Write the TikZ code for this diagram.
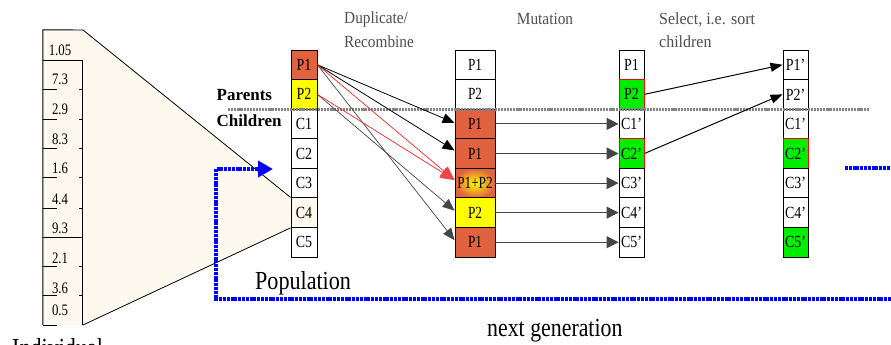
\documentclass[tikz,border=0pt]{standalone}
\usepackage{fontspec}
\setmainfont{Liberation Serif}
\usepackage{graphicx}
\usetikzlibrary{arrows.meta}

\definecolor{orng}{HTML}{E2613F}
\definecolor{yel}{HTML}{FFFF00}
\definecolor{grn}{HTML}{00EE00}
\definecolor{beige}{HTML}{FDF9EF}
\definecolor{ttl}{HTML}{4D4D4D}
\definecolor{arrgray}{HTML}{454545}
\definecolor{redarr}{HTML}{F02828}
\definecolor{redhead}{HTML}{E84848}
\definecolor{sepgray}{HTML}{858585}

% horizontally condensed text
\newcommand\sqz[2][0.82]{\scalebox{#1}[1]{#2}}

\begin{document}
\begin{tikzpicture}[x=1pt,y=-1pt,
  cell/.style={draw, line width=0.9pt, inner sep=0pt, minimum height=29.57pt,
    font=\fontsize{17}{17}\selectfont},
  fw/.style={fill=white},
  fo/.style={fill=orng},
  fy/.style={fill=yel},
  fb/.style={fill=beige},
  fg/.style={fill=grn, draw=red},
  fgk/.style={fill=grn},
  fglow/.style={shading=radial, inner color=yel, outer color=orng},
  num/.style={inner sep=0pt, font=\fontsize{16}{16}\selectfont},
  ttlfont/.style={inner sep=0pt, anchor=base west, text=ttl, font=\fontsize{17}{17}\selectfont},
  bigfont/.style={inner sep=0pt, anchor=base west, font=\fontsize{26}{26}\selectfont},
  sidefont/.style={inner sep=0pt, anchor=base west, font=\fontsize{17}{17}\selectfont\bfseries},
  tipk/.style={-{Triangle[length=12pt,width=10pt]}},
  dupk/.style={tipk, line width=0.8pt, black},
  dupg/.style={tipk, line width=0.7pt, arrgray},
  dupr/.style={-{Triangle[length=14pt,width=12pt,color=redhead]}, line width=0.7pt, redarr},
  mutarr/.style={-{Triangle[length=12pt,width=12pt]}, line width=1pt, arrgray},
  selarr/.style={-{Triangle[length=12pt,width=9pt]}, line width=1pt, black},
  sepline/.style={line width=3.2pt, sepgray, dash pattern=on 2.2pt off 0.9pt},
  blueline/.style={line width=3.8pt, blue, dash pattern=on 3pt off 0.8pt}]

\useasboundingbox (0,0) rectangle (891,345);
\clip (0,0) rectangle (891,345);

% ---- individual: funnel and gene column ----
\fill[beige] (43,30) -- (83,30) -- (291,197.4) -- (291,227) -- (83,325) -- (43,325) -- cycle;
\node[inner sep=0pt, minimum width=39pt, minimum height=295pt] (indiv) at (62.5,177.5) {};
\draw[line width=0.9pt] (indiv.south west) -- (indiv.north west) -- (83,30);
\draw[line width=0.9pt] (43,60.7) -- (83,60.7);
\draw[line width=0.9pt] (43,237) -- (83,237);
\draw[line width=0.9pt] (82.5,60.7) -- (82.5,325);
\foreach \y in {89,119,148,177,208,266,295,325}
  \draw[line width=0.9pt] (43,\y) -- (57,\y);
\foreach \y in {89,119,148,177,208,266,295}
  \draw[line width=0.9pt] (79,\y) -- (82.5,\y);
\foreach \y/\v [count=\k] in {50.5/1.05, 79/7.3, 109/2.9, 139/8.3, 168.5/1.6,
                               199/4.4, 228/9.3, 258.5/2.1, 288/3.6, 310.5/0.5}
  \node[num] (gene\k) at (60,\y) {\sqz[0.8]{\v}};

% ---- population ----
\foreach \t/\s [count=\i] in {P1/fo, P2/fy, C1/fw, C2/fw, C3/fw, C4/fb, C5/fw}
  \node[cell, \s, minimum width=26pt] (pop\i) at (304,{50+(\i-0.5)*29.57}) {\sqz{\t}};

% funnel edges meet C4
\draw[line width=0.8pt] (83,30) -- (pop6.north west);
\draw[line width=0.8pt] (83,325) -- (pop6.south west);

% ---- after duplicate / recombine ----
\foreach \t/\s [count=\i] in {P1/fw, P2/fw, P1/fo, P1/fo, P1+P2/fglow, P2/fy, P1/fo}
  \node[cell, \s, minimum width=40pt] (mut\i) at (475,{50+(\i-0.5)*29.57}) {\sqz[0.78]{\t}};

% ---- after mutation ----
\foreach \t/\s [count=\i] in {P1/fw, P2/fg, C1'/fw, C2'/fg, C3'/fw, C4'/fw, C5'/fw}
  \node[cell, \s, minimum width=25pt] (chd\i) at (631.5,{50+(\i-0.5)*29.57}) {\sqz{\t}};

% ---- after selection ----
\foreach \t/\s [count=\i] in {P1'/fw, P2'/fw, C1'/fw, C2'/fg, C3'/fw, C4'/fw, C5'/fgk}
  \node[cell, \s, minimum width=25pt] (sel\i) at (795.5,{50+(\i-0.5)*29.57}) {\sqz{\t}};

% parents / children separator
\draw[sepline] (228,109.5) -- (869,109.5);

% ---- duplicate / recombine arrows ----
\draw[dupg] (pop1.east) -- ([yshift=2pt]mut7.west);
\draw[dupg] (pop2.east) -- ([yshift=2pt]mut6.west);
\draw[dupk] (pop1.east) -- ([yshift=1pt]mut3.west);
\draw[dupk] (pop1.east) -- ([yshift=3pt]mut4.west);
\draw[dupr] (pop2.east) -- ([yshift=3pt]mut5.west);
\draw[dupr] (pop1.east) -- ([yshift=3pt]mut5.west);

% ---- mutation arrows ----
\foreach \i in {3,...,7}
  \draw[mutarr] (mut\i.east) -- (chd\i.west);

% ---- selection arrows ----
\draw[selarr] (chd2.east) -- (sel1.west);
\draw[selarr] (chd4.east) -- (sel2.west);

% ---- next generation loop ----
\coordinate (loopin) at (273,169);
\draw[blueline, -{Triangle[length=15pt,width=16pt,sep=0pt]}]
  (891,299) -- (216,299) -- (216,169) -- (loopin);
\draw[blueline] (845,168) -- (891,168);

% ---- labels ----
\node[ttlfont] (tdup) at (344,24) {\sqz[0.9]{Duplicate/}};
\node[ttlfont] (trec) at (344,47.5) {\sqz[0.9]{Recombine}};
\node[ttlfont, anchor=base] (tmut) at (545,25) {\sqz[0.9]{Mutation}};
\node[ttlfont] (tsel) at (659,25) {\sqz[0.94]{Select, i.e. sort}};
\node[ttlfont] (tchl) at (659,48) {\sqz[0.94]{children}};
\node[sidefont] (lpar) at (216.5,100) {Parents};
\node[sidefont] (lchi) at (216.5,126.5) {Children};
\node[bigfont] (lpop) at (255,289) {\sqz[0.85]{Population}};
\node[bigfont] (lnext) at (487,336) {\sqz[0.84]{next generation}};
\node[bigfont] (lind) at (12,356) {\sqz[0.85]{Individual}};
\end{tikzpicture}
\end{document}
